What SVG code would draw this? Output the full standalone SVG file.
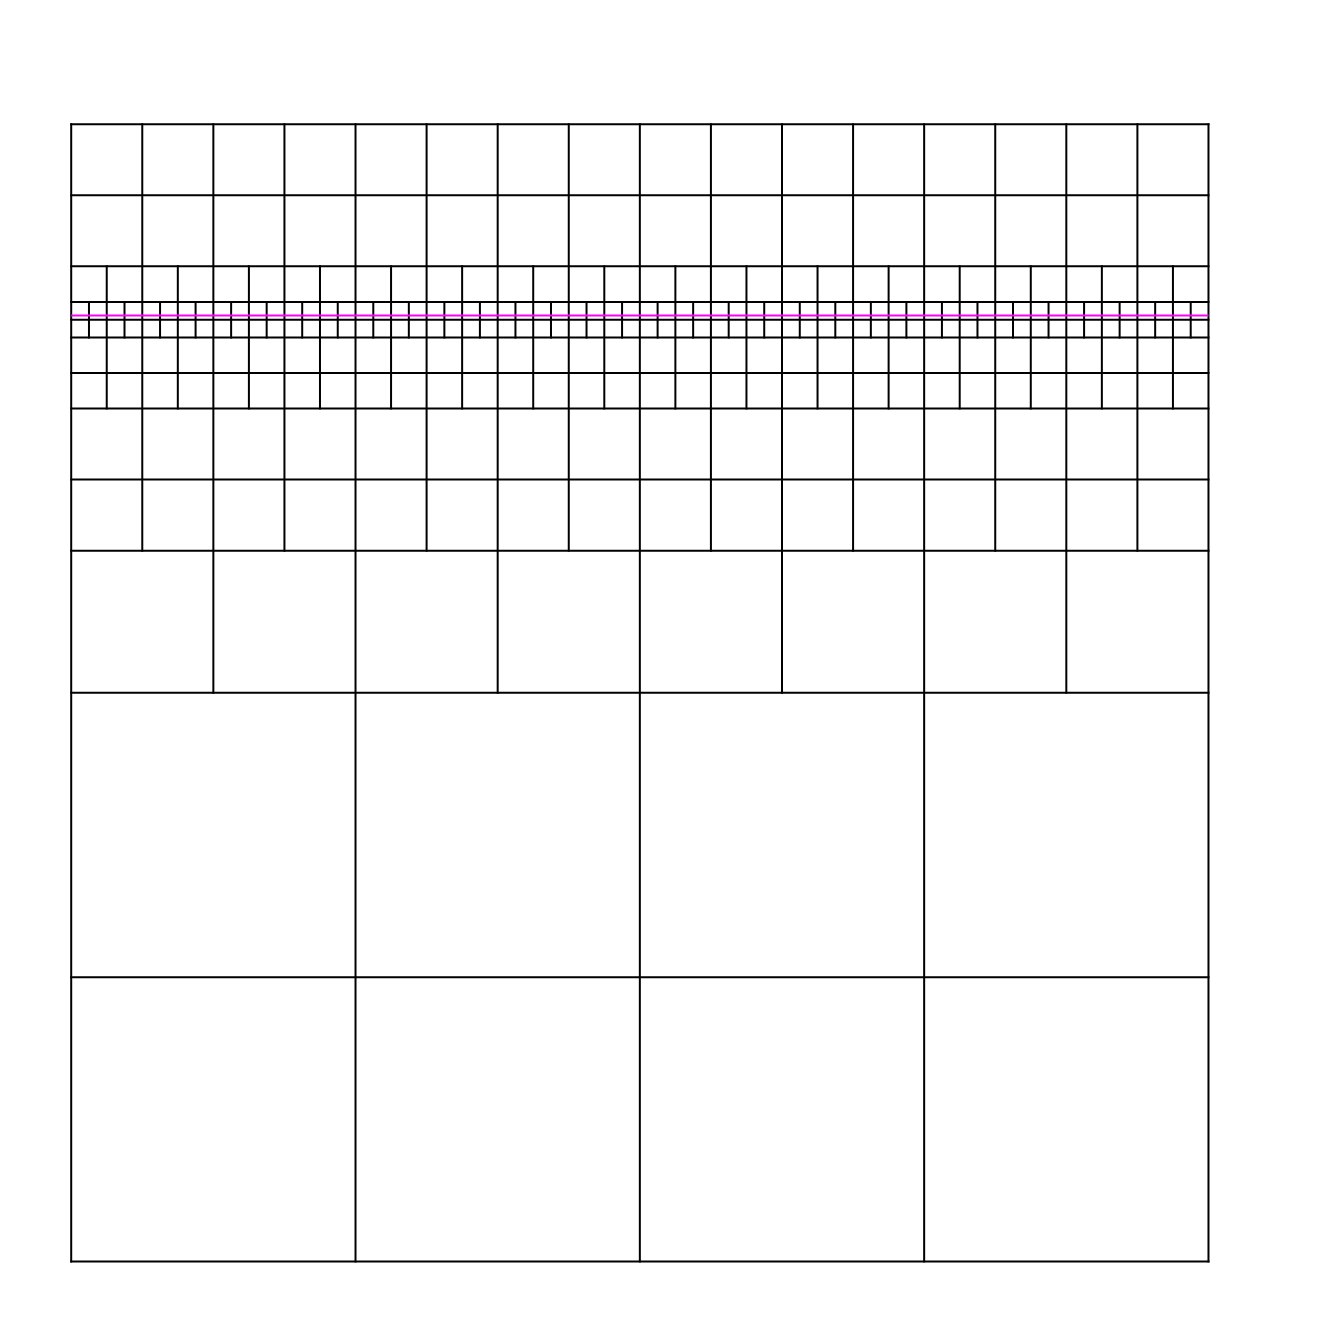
<svg xmlns="http://www.w3.org/2000/svg" width="1333" height="1333" viewBox="0 0 1333 1333">
<style>
.g{fill:none;stroke:#000;stroke-width:2;stroke-linecap:square;vector-effect:non-scaling-stroke}
.m{fill:none;stroke:#ff00ff;stroke-width:2;vector-effect:non-scaling-stroke}
</style>
<rect width="1333" height="1333" fill="#fff"/>
<g id="grid" transform="translate(71.2,124.2) scale(17.77)">
<path id="horizontals" class="g" d="M0 0H64M0 4H64M0 8H64M0 10H64M0 11H64M0 12H64M0 14H64M0 16H64M0 20H64M0 24H64M0 32H64M0 48H64M0 64H64"/>
<path id="level0" class="g" d="M0 0V64M16 0V64M32 0V64M48 0V64M64 0V64"/>
<path id="level1" class="g" d="M8 0V32M24 0V32M40 0V32M56 0V32"/>
<path id="level2" class="g" d="M4 0V24M12 0V24M20 0V24M28 0V24M36 0V24M44 0V24M52 0V24M60 0V24"/>
<path id="level3" class="g" d="M2 8V16M6 8V16M10 8V16M14 8V16M18 8V16M22 8V16M26 8V16M30 8V16M34 8V16M38 8V16M42 8V16M46 8V16M50 8V16M54 8V16M58 8V16M62 8V16"/>
<path id="level4" class="g" d="M1 10V12M3 10V12M5 10V12M7 10V12M9 10V12M11 10V12M13 10V12M15 10V12M17 10V12M19 10V12M21 10V12M23 10V12M25 10V12M27 10V12M29 10V12M31 10V12M33 10V12M35 10V12M37 10V12M39 10V12M41 10V12M43 10V12M45 10V12M47 10V12M49 10V12M51 10V12M53 10V12M55 10V12M57 10V12M59 10V12M61 10V12M63 10V12"/>
<path id="interface" class="m" d="M0 10.76H64"/>
</g>
</svg>
